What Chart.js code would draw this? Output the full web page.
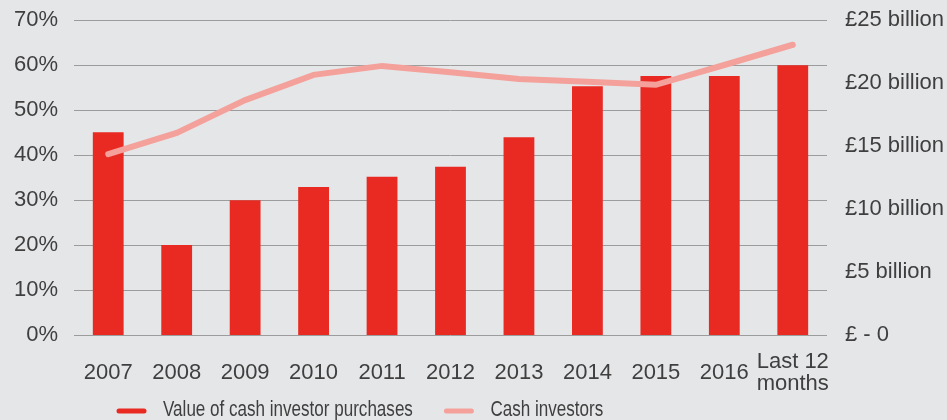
<!DOCTYPE html>
<html>
<head>
<meta charset="utf-8">
<script src="https://cdn.jsdelivr.net/npm/chart.js@4/dist/chart.umd.min.js"></script>
<style>
  html, body { margin: 0; padding: 0; background: #e5e6e8; }
  #wrap { width: 947px; height: 420px; position: relative; }
</style>
</head>
<body>
<div id="wrap"><canvas id="cashChart"></canvas></div>
<script>
// === CASH INVESTORS CHART ===

const categories = ['2007', '2008', '2009', '2010', '2011', '2012', '2013', '2014', '2015', '2016', ['Last 12', 'months']];
const purchaseValues = [16.1, 7.14, 10.7, 11.75, 12.55, 13.35, 15.7, 19.75, 20.55, 20.55, 21.4];   // £ billion
const cashInvestorShare = [40.2, 44.9, 52.2, 57.8, 59.8, 58.4, 56.9, 56.3, 55.6, 60.0, 64.5];     // %
const pctTicks = [0, 10, 20, 30, 40, 50, 60, 70];
const gbpTicks = [0, 5, 10, 15, 20, 25];
const gbpLabels = ['£ - 0', '£5 billion', '£10 billion', '£15 billion', '£20 billion', '£25 billion'];

const COLORS = { red: '#e92a23', pink: '#f4a19b', text: '#3f3f3f', grid: '#9c9c9c' };
const FONT = "'Liberation Sans', Arial, Helvetica, sans-serif";

// legend drawn by hand so the spacing (and the narrow type) matches the original
const legendPlugin = {
    id: 'bottomLegend',
    afterDraw(chart) {
        const ctx = chart.ctx;
        const y = 410;
        const squeeze = 0.775;
        let x = 119;
        ctx.save();
        ctx.font = '22px ' + FONT;
        ctx.textBaseline = 'middle';
        chart.data.datasets.forEach(ds => {
            ctx.strokeStyle = ds.legendColor;
            ctx.lineWidth = 5;
            ctx.lineCap = 'round';
            ctx.beginPath();
            ctx.moveTo(x, y + 1);
            ctx.lineTo(x + 25, y + 1);
            ctx.stroke();
            ctx.fillStyle = COLORS.text;
            ctx.save();
            ctx.translate(x + 44, y);
            ctx.scale(squeeze, 1);
            ctx.fillText(ds.label, 0, 0);
            ctx.restore();
            x += 44 + ctx.measureText(ds.label).width * squeeze + 33.5;
        });
        ctx.restore();
    }
};

new Chart(document.getElementById('cashChart').getContext('2d'), {
    data: {
        labels: categories,
        datasets: [
            { type: 'bar', label: 'Value of cash investor purchases', data: purchaseValues, yAxisID: 'y2',
              backgroundColor: COLORS.red, legendColor: COLORS.red, barPercentage: 0.45, categoryPercentage: 1, order: 2 },
            { type: 'line', label: 'Cash investors', data: cashInvestorShare, yAxisID: 'y',
              borderColor: COLORS.pink, legendColor: COLORS.pink, borderWidth: 6, pointRadius: 0,
              borderCapStyle: 'round', borderJoinStyle: 'miter', tension: 0, order: 1 }
        ]
    },
    options: {
        responsive: true, maintainAspectRatio: false, animation: false,
        layout: { padding: { top: 20, bottom: 23, left: 0, right: 0 } },
        plugins: { legend: { display: false }, tooltip: { enabled: false } },
        scales: {
            x: {
                grid: { display: false, drawTicks: false },
                border: { display: false },
                ticks: { color: COLORS.text, font: { family: FONT, size: 22, lineHeight: 1 }, padding: 27,
                         crossAlign: 'center', maxRotation: 0, autoSkip: false },
                afterFit: s => { s.height = 62; }
            },
            y: {
                position: 'left', min: 0, max: 70,
                afterBuildTicks: s => { s.ticks = pctTicks.map(v => ({ value: v })); },
                // invisible tick marks give the label gap without adding vertical padding
                grid: { color: COLORS.grid, lineWidth: 1, drawTicks: true, tickLength: 16, tickColor: 'rgba(0,0,0,0)' },
                border: { display: false },
                ticks: { color: COLORS.text, font: { family: FONT, size: 22 }, padding: 0, callback: v => v + '%' },
                afterFit: s => { s.width = 74; }
            },
            y2: {
                position: 'right', min: 0, max: 25,
                afterBuildTicks: s => { s.ticks = gbpTicks.map(v => ({ value: v })); },
                grid: { display: false, drawTicks: true, tickLength: 18 },
                border: { display: false },
                ticks: { color: COLORS.text, font: { family: FONT, size: 22 }, padding: 0, callback: v => gbpLabels[gbpTicks.indexOf(v)] },
                afterFit: s => { s.width = 120; }
            }
        }
    },
    plugins: [legendPlugin]
});
</script>
</body>
</html>
